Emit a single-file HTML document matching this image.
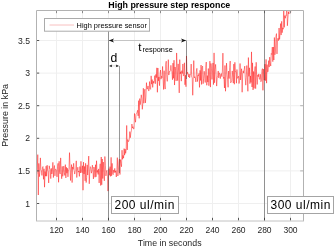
<!DOCTYPE html>
<html><head><meta charset="utf-8"><style>
html,body{margin:0;padding:0;background:#fff;width:335px;height:246px;overflow:hidden}
svg{display:block;will-change:transform}
text{font-family:"Liberation Sans", sans-serif}
</style></head><body>
<svg width="335" height="246" viewBox="0 0 335 246"><defs><clipPath id="c"><rect x="36.5" y="10.5" width="267.0" height="210.0"/></clipPath></defs><path d="M56.5 10.5V220.5M82.5 10.5V220.5M108.5 10.5V220.5M134.5 10.5V220.5M160.5 10.5V220.5M186.5 10.5V220.5M212.5 10.5V220.5M238.5 10.5V220.5M264.5 10.5V220.5M290.5 10.5V220.5M36.5 203.5H303.5M36.5 170.9H303.5M36.5 138.3H303.5M36.5 105.7H303.5M36.5 73.1H303.5M36.5 40.5H303.5" stroke="#efefef" stroke-width="1" fill="none"/><polyline clip-path="url(#c)" points="35.70,168.68 36.22,172.55 36.74,174.14 37.26,170.06 37.78,154.60 38.30,195.02 38.82,163.38 39.34,176.71 39.86,172.09 40.38,157.86 40.90,169.79 41.42,170.73 41.94,175.44 42.46,167.71 42.98,166.51 43.50,179.32 44.02,168.77 44.54,187.20 45.06,171.53 45.58,176.20 46.10,166.16 46.62,176.23 47.14,165.16 47.66,170.21 48.18,171.68 48.70,182.94 49.22,165.80 49.74,168.95 50.26,169.51 50.78,178.62 51.30,168.34 51.82,174.01 52.34,171.67 52.86,162.33 53.38,177.56 53.90,168.08 54.42,165.51 54.94,175.87 55.46,169.15 55.98,169.34 56.50,170.23 57.02,176.87 57.54,166.31 58.06,163.33 58.58,182.31 59.10,161.26 59.62,172.10 60.14,173.96 60.66,157.88 61.18,172.02 61.70,178.75 62.22,166.39 62.74,176.35 63.26,172.91 63.78,166.11 64.30,172.57 64.82,175.48 65.34,164.62 65.86,177.96 66.38,167.23 66.90,173.27 67.42,168.24 67.94,176.86 68.46,169.86 68.98,169.60 69.50,152.64 70.02,166.83 70.54,180.51 71.06,170.60 71.58,164.55 72.10,182.59 72.62,166.92 73.14,169.42 73.66,163.31 74.18,170.26 74.70,174.09 75.22,171.29 75.74,170.51 76.26,160.83 76.78,177.52 77.30,170.65 77.82,167.19 78.34,172.13 78.86,171.04 79.38,176.40 79.90,166.52 80.42,172.99 80.94,161.30 81.46,170.17 81.98,172.74 82.50,165.77 83.02,190.22 83.54,162.11 84.06,174.09 84.58,166.40 85.10,180.84 85.62,163.31 86.14,182.59 86.66,177.52 87.18,164.89 87.70,175.06 88.22,165.92 88.74,156.09 89.26,183.82 89.78,171.34 90.30,166.64 90.82,167.75 91.34,173.19 91.86,170.96 92.38,165.15 92.90,169.37 93.42,178.92 93.94,167.03 94.46,169.73 94.98,177.30 95.50,164.73 96.02,176.82 96.54,160.76 97.06,172.49 97.58,170.36 98.10,174.45 98.62,168.89 99.14,182.94 99.66,170.46 100.18,163.78 100.70,185.54 101.22,156.99 101.74,184.78 102.26,158.97 102.78,178.54 103.30,162.07 103.82,172.20 104.34,180.82 104.86,156.49 105.38,165.29 105.90,175.89 106.42,171.81 106.94,170.31 107.46,176.08 107.98,191.11 108.50,177.78 109.02,168.62 109.54,175.27 110.06,166.64 110.58,176.38 111.10,157.37 111.62,175.80 112.14,163.35 112.66,173.62 113.18,174.71 113.70,169.90 114.22,172.57 114.74,168.37 115.26,172.46 115.78,170.78 116.30,176.97 116.82,169.73 117.34,157.63 117.86,176.01 118.38,170.54 118.90,161.88 119.42,159.09 119.94,174.57 120.46,159.55 120.98,163.64 121.50,166.71 122.02,150.20 122.54,159.30 123.06,155.39 123.58,158.18 124.10,148.55 124.62,155.18 125.14,149.05 125.66,153.36 126.18,149.79 126.70,125.44 127.22,149.92 127.74,139.50 128.26,141.74 128.78,141.30 129.30,138.96 129.82,131.59 130.34,137.73 130.86,132.88 131.38,130.87 131.90,124.05 132.42,128.09 132.94,126.65 133.46,128.98 133.98,128.90 134.50,113.48 135.02,118.22 135.54,122.23 136.06,114.21 136.58,113.32 137.10,112.17 137.62,110.29 138.14,115.87 138.66,100.62 139.18,118.36 139.70,98.58 140.22,104.69 140.74,100.19 141.26,94.79 141.78,98.37 142.30,109.34 142.82,103.59 143.34,88.22 143.86,103.25 144.38,91.88 144.90,89.15 145.42,102.92 145.94,97.16 146.46,82.63 146.98,89.14 147.50,88.82 148.02,85.93 148.54,90.69 149.06,90.87 149.58,81.54 150.10,88.81 150.62,89.36 151.14,75.85 151.66,84.18 152.18,79.55 152.70,87.41 153.22,81.14 153.74,83.21 154.26,81.24 154.78,75.62 155.30,83.75 155.82,74.41 156.34,77.65 156.86,67.81 157.38,92.30 157.90,68.03 158.42,80.82 158.94,76.93 159.46,85.68 159.98,74.53 160.50,70.10 161.02,79.19 161.54,76.33 162.06,77.66 162.58,66.43 163.10,79.30 163.62,89.53 164.14,70.69 164.66,85.12 165.18,89.09 165.70,64.32 166.22,61.23 166.74,77.85 167.26,81.39 167.78,74.38 168.30,59.65 168.82,75.04 169.34,71.58 169.86,71.74 170.38,70.64 170.90,65.32 171.42,70.33 171.94,71.80 172.46,79.77 172.98,63.09 173.50,78.31 174.02,60.23 174.54,85.05 175.06,66.97 175.58,70.64 176.10,80.95 176.62,52.94 177.14,67.33 177.66,80.66 178.18,63.85 178.70,72.04 179.22,92.88 179.74,59.61 180.26,73.85 180.78,71.73 181.30,81.16 181.82,70.65 182.34,73.49 182.86,63.94 183.38,76.08 183.90,75.35 184.42,62.78 184.94,84.75 185.46,75.23 185.98,86.73 186.50,55.98 187.02,74.31 187.54,72.19 188.06,73.84 188.58,76.98 189.10,73.92 189.62,77.82 190.14,75.55 190.66,73.84 191.18,64.07 191.70,77.13 192.22,77.78 192.74,95.27 193.26,77.43 193.78,60.59 194.30,77.87 194.82,76.66 195.34,77.94 195.86,81.92 196.38,71.06 196.90,68.34 197.42,81.59 197.94,75.19 198.46,75.82 198.98,73.39 199.50,87.39 200.02,70.35 200.54,80.50 201.06,65.06 201.58,84.46 202.10,67.69 202.62,66.16 203.14,83.68 203.66,78.31 204.18,71.25 204.70,75.93 205.22,82.51 205.74,67.65 206.26,62.05 206.78,85.29 207.30,75.60 207.82,82.08 208.34,68.51 208.86,85.71 209.38,78.28 209.90,61.13 210.42,87.11 210.94,63.43 211.46,68.26 211.98,79.46 212.50,72.11 213.02,62.93 213.54,84.60 214.06,52.89 214.58,82.80 215.10,69.34 215.62,64.36 216.14,74.10 216.66,86.10 217.18,77.69 217.70,75.44 218.22,70.96 218.74,77.91 219.26,72.76 219.78,73.87 220.30,78.63 220.82,74.28 221.34,73.50 221.86,76.67 222.38,71.12 222.90,53.12 223.42,78.46 223.94,77.22 224.46,87.97 224.98,65.45 225.50,91.26 226.02,77.73 226.54,63.12 227.06,73.47 227.58,79.23 228.10,87.32 228.62,71.01 229.14,78.58 229.66,67.73 230.18,61.07 230.70,82.85 231.22,81.92 231.74,80.76 232.26,70.88 232.78,77.25 233.30,83.08 233.82,64.08 234.34,84.28 234.86,62.30 235.38,71.91 235.90,71.55 236.42,83.22 236.94,69.51 237.46,78.35 237.98,77.62 238.50,76.20 239.02,83.54 239.54,80.69 240.06,63.48 240.58,79.95 241.10,72.90 241.62,68.73 242.14,92.25 242.66,74.03 243.18,70.79 243.70,73.10 244.22,69.35 244.74,66.12 245.26,77.94 245.78,85.17 246.30,77.26 246.82,65.52 247.34,75.16 247.86,91.31 248.38,57.55 248.90,76.38 249.42,67.79 249.94,83.66 250.46,75.95 250.98,82.48 251.50,51.89 252.02,87.00 252.54,62.83 253.06,89.97 253.58,71.48 254.10,88.42 254.62,71.36 255.14,66.47 255.66,88.66 256.18,62.27 256.70,77.22 257.22,84.48 257.74,74.81 258.26,76.72 258.78,73.85 259.30,79.14 259.82,79.32 260.34,74.25 260.86,81.75 261.38,80.75 261.90,70.46 262.42,68.62 262.94,90.34 263.46,69.10 263.98,80.22 264.50,79.98 265.02,64.12 265.54,80.69 266.06,59.39 266.58,83.16 267.10,64.58 267.62,71.97 268.14,71.62 268.66,60.62 269.18,67.12 269.70,57.14 270.22,62.99 270.74,66.06 271.26,53.47 271.78,54.48 272.30,47.11 272.82,61.70 273.34,47.01 273.86,60.03 274.38,37.50 274.90,54.77 275.42,51.89 275.94,36.22 276.46,33.60 276.98,53.93 277.50,40.18 278.02,38.19 278.54,40.62 279.06,28.03 279.58,39.47 280.10,33.15 280.62,23.57 281.14,35.06 281.66,21.34 282.18,32.69 282.70,27.77 283.22,29.22 283.74,2.74 284.26,27.39 284.78,15.64 285.30,18.25 285.82,15.22 286.34,15.56 286.86,3.18 287.38,25.78 287.90,18.27 288.42,11.89 288.94,14.03 289.46,-0.53 289.98,4.20 290.50,13.14 291.02,8.52 291.54,-0.22" fill="none" stroke="#ff0000" stroke-width="0.45" stroke-linejoin="round"/><path d="M56.5 220.5v-2.7M82.5 220.5v-2.7M108.5 220.5v-2.7M134.5 220.5v-2.7M160.5 220.5v-2.7M186.5 220.5v-2.7M212.5 220.5v-2.7M238.5 220.5v-2.7M264.5 220.5v-2.7M290.5 220.5v-2.7M36.5 203.5h2.7M36.5 170.9h2.7M36.5 138.3h2.7M36.5 105.7h2.7M36.5 73.1h2.7M36.5 40.5h2.7" stroke="#555" stroke-width="1" fill="none"/><path d="M56.5 10.5v2.7M82.5 10.5v2.7M108.5 10.5v2.7M134.5 10.5v2.7M160.5 10.5v2.7M186.5 10.5v2.7M212.5 10.5v2.7M238.5 10.5v2.7M264.5 10.5v2.7M290.5 10.5v2.7" stroke="#8a8a8a" stroke-width="1" fill="none"/><path d="M303.5 203.5h-3.3M303.5 170.9h-3.3M303.5 138.3h-3.3M303.5 105.7h-3.3M303.5 73.1h-3.3M303.5 40.5h-3.3" stroke="#b4b4b4" stroke-width="1" fill="none"/><path d="M36.5 221V10.5H303.5V221" fill="none" stroke="#b2b2b2" stroke-width="1"/><path d="M36 221H304" fill="none" stroke="#c2c2c2" stroke-width="1"/><path d="M108.5 18V220.5M264.5 10.5V220.5M186.5 40.5V79M119.5 66V173" stroke="#333" stroke-width="0.5" fill="none"/><path d="M108.5 40.5H186.5" stroke="#999" stroke-width="0.5"/><path d="M108.7 40.4l5.4 -2l-1.5 2l1.5 2z" fill="#111"/><path d="M186.3 40.4l-5.4 -2l1.5 2l-1.5 2z" fill="#111"/><path d="M108.5 65.9H119.5" stroke="#999" stroke-width="0.4"/><path d="M109.2 65.9l3 -1.4l-0.7 1.4l0.7 1.4z" fill="#000"/><path d="M118.8 65.9l-3 -1.4l0.7 1.4l-0.7 1.4z" fill="#000"/><rect x="44.5" y="18.5" width="105" height="12.7" fill="#fff" stroke="#ababab" stroke-width="1"/><path d="M49.5 25H74" stroke="#f8c0c0" stroke-width="1"/><text x="76.6" y="27.8"  font-size="7.4" fill="#000">High pressure sensor</text><rect x="111.5" y="196.5" width="67" height="17" fill="#fff" stroke="#a4a4a4" stroke-width="1"/><text x="114.5" y="208.7"  font-size="12" letter-spacing="0.5" fill="#000">200 ul/min</text><rect x="267.5" y="196.5" width="66" height="17" fill="#fff" stroke="#a4a4a4" stroke-width="1"/><text x="270.5" y="208.7"  font-size="12" letter-spacing="0.5" fill="#000">300 ul/min</text><text x="110.5" y="62"  font-size="12.2" fill="#000">d</text><text x="138.2" y="51"  font-size="11.5" fill="#000">t<tspan font-size="7.35" dx="1.1" dy="1.1">response</tspan></text><text x="56.5" y="233.2"  font-size="8.5" fill="#262626" text-anchor="middle">120</text><text x="82.5" y="233.2"  font-size="8.5" fill="#262626" text-anchor="middle">140</text><text x="108.5" y="233.2"  font-size="8.5" fill="#262626" text-anchor="middle">160</text><text x="134.5" y="233.2"  font-size="8.5" fill="#262626" text-anchor="middle">180</text><text x="160.5" y="233.2"  font-size="8.5" fill="#262626" text-anchor="middle">200</text><text x="186.5" y="233.2"  font-size="8.5" fill="#262626" text-anchor="middle">220</text><text x="212.5" y="233.2"  font-size="8.5" fill="#262626" text-anchor="middle">240</text><text x="238.5" y="233.2"  font-size="8.5" fill="#262626" text-anchor="middle">260</text><text x="264.5" y="233.2"  font-size="8.5" fill="#262626" text-anchor="middle">280</text><text x="290.5" y="233.2"  font-size="8.5" fill="#262626" text-anchor="middle">300</text><text x="30" y="206.6"  font-size="8.6" fill="#262626" text-anchor="end">1</text><text x="30" y="174.0"  font-size="8.6" fill="#262626" text-anchor="end">1.5</text><text x="30" y="141.4"  font-size="8.6" fill="#262626" text-anchor="end">2</text><text x="30" y="108.8"  font-size="8.6" fill="#262626" text-anchor="end">2.5</text><text x="30" y="76.2"  font-size="8.6" fill="#262626" text-anchor="end">3</text><text x="30" y="43.6"  font-size="8.6" fill="#262626" text-anchor="end">3.5</text><text x="169.7" y="245.9"  font-size="8.8" fill="#262626" text-anchor="middle">Time in seconds</text><text transform="translate(7.7,115.3) rotate(-90)"  font-size="8.9" fill="#262626" text-anchor="middle">Pressure in kPa</text><text x="169.3" y="7.5"  font-size="8.85" font-weight="bold" fill="#000" text-anchor="middle">High pressure step responce</text></svg>
</body></html>
